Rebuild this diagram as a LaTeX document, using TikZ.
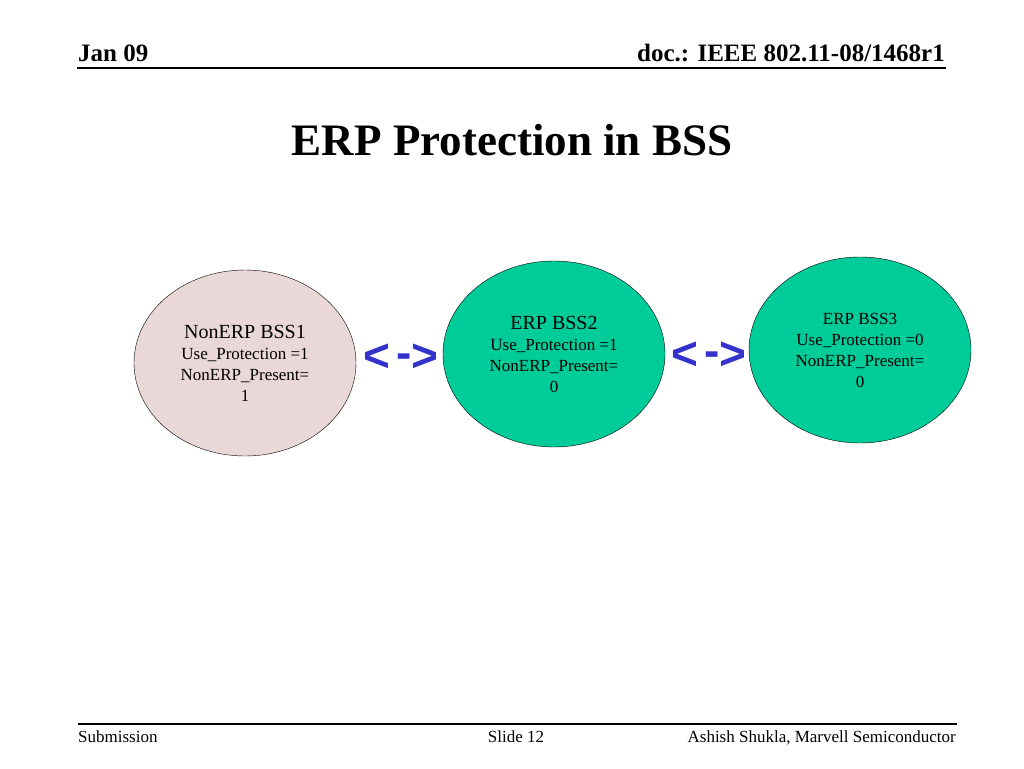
\documentclass[tikz,border=0pt]{standalone}
\usepackage{fontspec}
\setmainfont{Liberation Serif}
\newfontfamily\arrowfont{Liberation Sans}
\usetikzlibrary{shapes.geometric}

\definecolor{bsspink}{RGB}{234,216,216}
\definecolor{bssgreen}{RGB}{0,204,153}
\definecolor{linkblue}{RGB}{51,51,204}

\newcommand{\bothways}{<\hspace{6pt}\raisebox{3pt}{-}>}

\tikzset{
  bss/.style={draw, ellipse, minimum width=222pt, minimum height=186pt, inner sep=0pt,
    align=center, font=\fontsize{17}{21}\selectfont},
  hdr/.style={inner sep=0pt, font=\fontsize{25}{30}\selectfont\bfseries},
  ftr/.style={inner sep=0pt, font=\fontsize{17}{20}\selectfont},
  link/.style={inner sep=0pt, text=linkblue, font=\arrowfont\bfseries\fontsize{46}{46}\selectfont}
}

\begin{document}
\begin{tikzpicture}[x=1pt, y=-1pt]
    \useasboundingbox (0,0) rectangle (1024,768);

    \node [hdr, anchor=base west] (date) at (78,62) {Jan 09};
    \node [hdr, anchor=base east] (doc) at (945,62) {doc.: IEEE 802.11-08/1468r1};
    \draw [line width=1.5pt] (77,68) -- (946,68);

    \node [anchor=base, font=\fontsize{45}{54}\selectfont\bfseries] (title) at (512,155) {ERP Protection in BSS};

    \node [bss, fill=bsspink] (bss1) at (245,363) {{\fontsize{20}{22}\selectfont NonERP BSS1}\\Use\_Protection =1\\NonERP\_Present=\\1};
    \node [bss, fill=bssgreen] (bss2) at (554,354) {{\fontsize{20}{22}\selectfont ERP BSS2}\\Use\_Protection =1\\NonERP\_Present=\\0};
    \node [bss, fill=bssgreen] (bss3) at (860,350) {ERP BSS3\\Use\_Protection =0\\NonERP\_Present=\\0};

    \node [link] (link12) at (401,358) {\bothways};
    \node [link] (link23) at (709,356) {\bothways};

    \draw [line width=1.5pt] (78,724) -- (957,724);
    \node [ftr, anchor=base west] (sub) at (78,742) {Submission};
    \node [ftr, anchor=base] (slide) at (516,742) {Slide 12};
    \node [ftr, anchor=base east] (auth) at (956,742) {Ashish Shukla, Marvell Semiconductor};
\end{tikzpicture}
\end{document}
